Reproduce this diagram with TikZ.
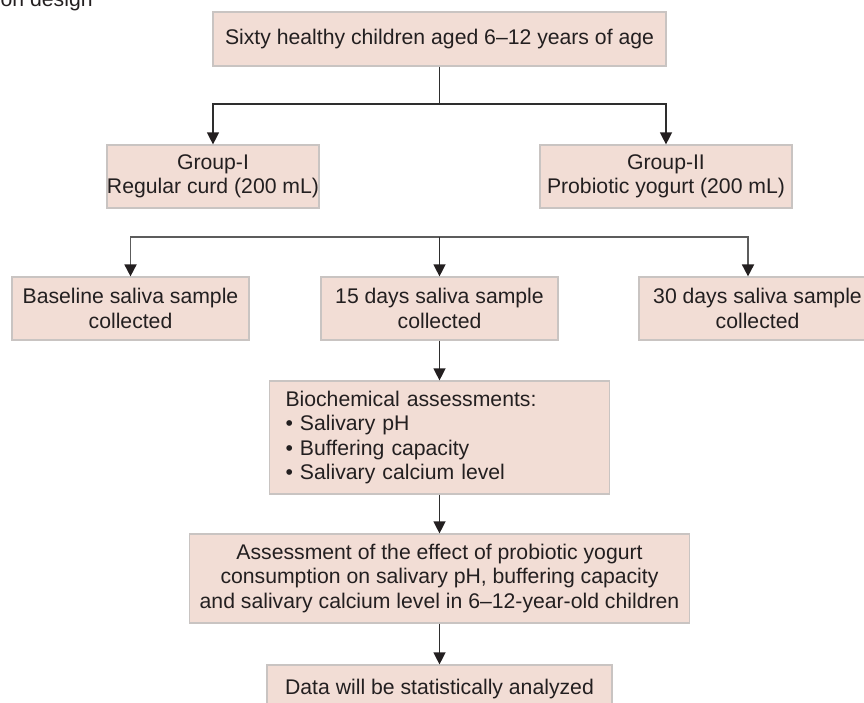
\documentclass[tikz,border=0pt]{standalone}
\usepackage{fontspec}
\setmainfont{Liberation Sans}
\usetikzlibrary{arrows.meta}
\definecolor{boxfill}{HTML}{F2DDD5}
\definecolor{boxline}{HTML}{C9C4C2}
\definecolor{txt}{HTML}{231F20}
\definecolor{lineA}{HTML}{2E2E2E}
\definecolor{lineB}{HTML}{5C5C5C}
\begin{document}
\begin{tikzpicture}[x=1pt,y=-1pt,
  box/.style={draw=boxline, line width=1.2pt, fill=boxfill, text=txt, inner sep=0pt, align=center, font=\fontsize{21.2}{24.5}\selectfont},
  conn/.style={draw=lineA, line width=1.3pt, -{Triangle[length=12pt,width=12pt,color=txt]}},
  connB/.style={draw=lineB, line width=1.8pt, -{Triangle[length=12pt,width=12pt,color=txt]}},
  plainline/.style={draw=lineA, line width=1.3pt}]
\useasboundingbox (0,0) rectangle (864,702);
\clip (0,0) rectangle (864,702);

\node[anchor=base west, inner sep=0pt, text=txt, font=\fontsize{21.2}{24.5}\selectfont] (cap) at (0.5,6) {on design};

\node[box, minimum width=453pt, minimum height=54pt] (top) at (439.5,39) {Sixty healthy children aged 6–12 years of age};
\node[box, minimum width=208pt, minimum height=63pt] (g1) at (213,176.5) {Group-I\\Regular curd (200 mL)};
\node[box, minimum width=252pt, minimum height=63pt] (g2) at (666,176.5) {Group-II\\Probiotic yogurt (200 mL)};
\node[box, minimum width=237pt, minimum height=63pt] (base) at (130.5,308.5) {Baseline saliva sample\\collected};
\node[box, minimum width=237pt, minimum height=63pt] (d15) at (439.5,308.5) {15 days saliva sample\\collected};
\node[box, minimum width=237pt, minimum height=63pt] (d30) at (757.5,308.5) {30 days saliva sample\\collected};
\node[box, align=left, text width=308pt, inner xsep=16pt, minimum height=113pt] (bio) at (439.5,437.5) {Biochemical assessments:\\• Salivary pH\\• Buffering capacity\\• Salivary calcium level};
\node[box, minimum width=500pt, minimum height=89pt] (ass) at (439.5,578.5) {Assessment of the effect of probiotic yogurt\\consumption on salivary pH, buffering capacity\\and salivary calcium level in 6–12-year-old children};
\node[box, minimum width=345pt, minimum height=49pt] (data) at (439.5,689.5) {Data will be statistically analyzed};

\coordinate (j1) at (439.5,104);
\draw[plainline] (top.south) -- (j1);
\draw[conn] (j1) -| (g1);
\draw[conn] (j1) -| (g2);

\coordinate (j2) at (439.5,237);
\draw[connB] (j2) -| (base);
\draw[connB] (j2) -| ([xshift=-9.5pt]d30.north);
\draw[conn] (j2) -- (d15);
\draw[conn] (d15) -- (bio);
\draw[conn] (bio) -- (ass);
\draw[conn] (ass) -- (data);
\end{tikzpicture}
\end{document}
